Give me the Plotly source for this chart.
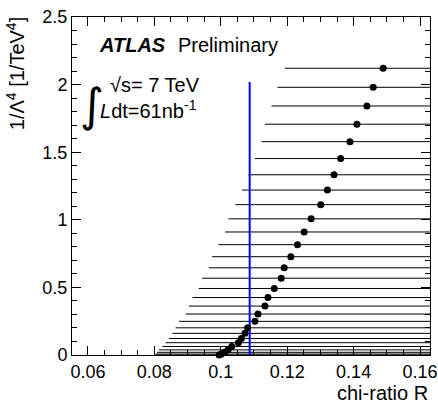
import plotly.graph_objects as go

# 1/Lambda^4 values (y), chi-ratio R central values and error bar ends
inv_lambda4 = [2.121, 1.980, 1.842, 1.707, 1.578, 1.453, 1.333, 1.220, 1.112, 1.007,
               0.910, 0.816, 0.727, 0.645, 0.568, 0.492, 0.425, 0.362, 0.303, 0.249,
               0.201, 0.160, 0.122, 0.091, 0.063, 0.038, 0.020, 0.007, 0.000]
chi_ratio = [0.1489, 0.1459, 0.1440, 0.1410, 0.1389, 0.1361, 0.1341, 0.1321, 0.1301, 0.1272,
             0.1251, 0.1231, 0.1211, 0.1191, 0.1182, 0.1161, 0.1142, 0.1133, 0.1112, 0.1103,
             0.1081, 0.1073, 0.1062, 0.1053, 0.1033, 0.1022, 0.1012, 0.1002, 0.0995]
chi_low = [0.1193, 0.1171, 0.1153, 0.1133, 0.1123, 0.1103, 0.1083, 0.1064, 0.1044, 0.1023,
           0.1013, 0.0993, 0.0974, 0.0964, 0.0944, 0.0934, 0.0915, 0.0904, 0.0894, 0.0874,
           0.0864, 0.0854, 0.0844, 0.0834, 0.0824, 0.0814, 0.0808, 0.0804, 0.0801]
chi_high = [0.185, 0.185, 0.185, 0.185, 0.185, 0.185, 0.185, 0.185, 0.185, 0.185,
            0.185, 0.185, 0.185, 0.185, 0.185, 0.185, 0.185, 0.185, 0.185, 0.185,
            0.185, 0.185, 0.185, 0.185, 0.185, 0.185, 0.185, 0.185, 0.185]

# measured value (vertical blue line)
measured_R = [0.1087, 0.1087]
measured_y = [0.0, 2.02]

err_minus = [c - l for c, l in zip(chi_ratio, chi_low)]
err_plus = [h - c for c, h in zip(chi_ratio, chi_high)]

FONT = "Liberation Sans, Arial, Helvetica, sans-serif"

fig = go.Figure()

fig.add_trace(go.Scatter(
    x=chi_ratio, y=inv_lambda4, mode="markers",
    marker=dict(size=1, color="rgba(0,0,0,0)"),
    error_x=dict(type="data", array=err_plus, arrayminus=err_minus,
                 color="black", thickness=1, width=0, symmetric=False),
    cliponaxis=True, showlegend=False, hoverinfo="skip"))

fig.add_trace(go.Scatter(
    x=measured_R, y=measured_y, mode="lines",
    line=dict(color="#0000ff", width=2), showlegend=False))

fig.add_trace(go.Scatter(
    x=chi_ratio, y=inv_lambda4, mode="markers",
    marker=dict(size=7, color="black"),
    cliponaxis=False, showlegend=False))

axis_common = dict(
    showline=True, linecolor="black", linewidth=1, mirror="allticks",
    ticks="inside", ticklen=9, tickwidth=1, tickcolor="black",
    showgrid=False, zeroline=False, ticklabeloverflow="allow", automargin=False,
    tickfont=dict(family=FONT, size=18, color="black"),
)

fig.update_xaxes(range=[0.0552, 0.163], dtick=0.02, tick0=0.06,
                 minor=dict(ticks="inside", ticklen=5, dtick=0.005, tickcolor="black", showgrid=False),
                 **axis_common)
fig.update_yaxes(range=[0, 2.5], dtick=0.5, tick0=0,
                 minor=dict(ticks="inside", ticklen=5, dtick=0.1, tickcolor="black", showgrid=False),
                 **axis_common)

ann_font = dict(family=FONT, size=20, color="black")
annotations = [
    dict(text="<b><i>ATLAS</i></b>", x=0.07, y=0.917, xref="paper", yref="paper",
         xanchor="left", yanchor="middle", showarrow=False, font=ann_font),
    dict(text="Preliminary", x=0.291, y=0.917, xref="paper", yref="paper",
         xanchor="left", yanchor="middle", showarrow=False, font=ann_font),
    dict(text="√s= 7 TeV", x=0.10, y=0.80, xref="paper", yref="paper",
         xanchor="left", yanchor="middle", showarrow=False, font=ann_font),
    dict(text="∫", x=0.055, y=0.74, xref="paper", yref="paper",
         xanchor="center", yanchor="middle", showarrow=False,
         font=dict(family="DejaVu Sans", size=46, color="black")),
    dict(text="<i>L</i>dt=61nb<sup>-1</sup>", x=0.074, y=0.725, xref="paper", yref="paper",
         xanchor="left", yanchor="middle", showarrow=False, font=ann_font),
    dict(text="chi-ratio R", x=1.0, y=-0.112, xref="paper", yref="paper",
         xanchor="right", yanchor="middle", showarrow=False, font=ann_font),
    dict(text="1/Λ<sup>4</sup> [1/TeV<sup>4</sup>]", x=-0.158, y=1.005, xref="paper", yref="paper",
         xanchor="center", yanchor="top", textangle=-90, showarrow=False, font=ann_font),
]

fig.update_layout(
    width=438, height=412,
    margin=dict(l=72, r=8, t=17, b=57),
    paper_bgcolor="white", plot_bgcolor="white",
    annotations=annotations,
    showlegend=False,
)

fig.write_html("out.html")
